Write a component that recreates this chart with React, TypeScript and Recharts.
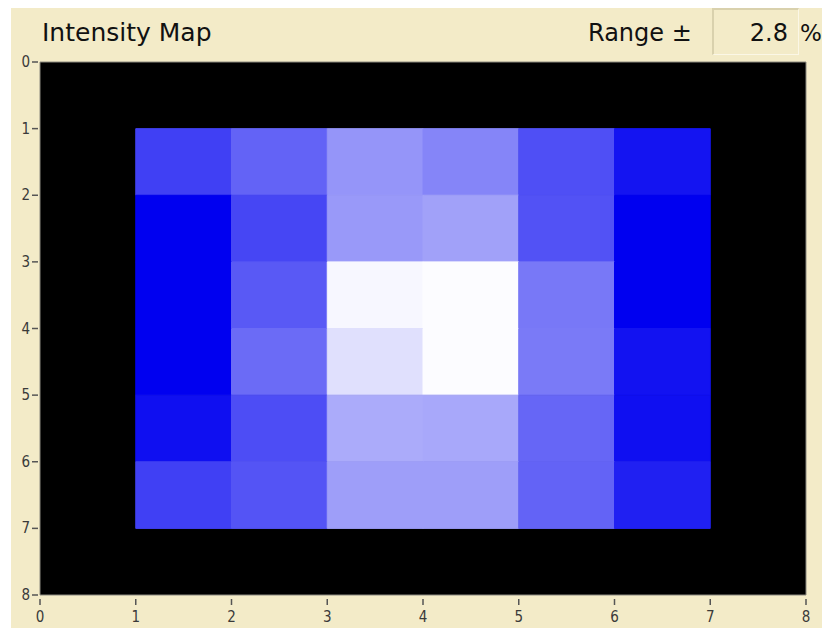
import { ReferenceArea, ScatterChart, XAxis, YAxis } from 'recharts';

// 6x6 intensity grid, rows top to bottom (y = 1..7), columns left to right (x = 1..7)
const row1 = [0.25, 0.39, 0.585, 0.52, 0.31, 0.08];
const row2 = [0.0, 0.275, 0.6, 0.63, 0.32, 0.0];
const row3 = [0.0, 0.35, 0.97, 0.99, 0.47, 0.0];
const row4 = [0.0, 0.42, 0.88, 0.99, 0.48, 0.07];
const row5 = [0.06, 0.3, 0.67, 0.66, 0.4, 0.06];
const row6 = [0.25, 0.33, 0.62, 0.62, 0.39, 0.125];
const rows = [row1, row2, row3, row4, row5, row6];

const xTicks = [0, 1, 2, 3, 4, 5, 6, 7, 8];
const yTicks = [0, 1, 2, 3, 4, 5, 6, 7, 8];
const rangePct = 2.8;

const BG = '#f3ebc8';
const TICK_FONT = '"DejaVu Sans Condensed", "DejaVu Sans", sans-serif';

// blue -> white colormap
function colorFor(v: number) {
  const c = Math.round(255 * v);
  const b = Math.round(240 + 15 * v);
  return `rgb(${c},${c},${b})`;
}

function XTick(props: any) {
  const { x, y, payload } = props;
  return (
    <g>
      <line x1={x} x2={x} y1={y + 4} y2={y + 10} stroke="#555" strokeWidth={1.5} />
      <text x={x} y={y + 27} textAnchor="middle" fontSize={15} fill="#3a3a3a" fontFamily={TICK_FONT}>
        {payload.value}
      </text>
    </g>
  );
}

function YTick(props: any) {
  const { x, y, payload } = props;
  return (
    <g>
      <line x1={x - 8} x2={x - 2} y1={y} y2={y} stroke="#555" strokeWidth={1.5} />
      <text x={x - 10} y={y + 5} textAnchor="end" fontSize={15} fill="#3a3a3a" fontFamily={TICK_FONT}>
        {payload.value}
      </text>
    </g>
  );
}

export default function App() {
  const cells: any[] = [];
  rows.forEach((row, r) => {
    row.forEach((v, c) => {
      const col = colorFor(v);
      cells.push(
        <ReferenceArea
          key={`${r}-${c}`}
          x1={c + 1}
          x2={c + 2}
          y1={r + 1}
          y2={r + 2}
          fill={col}
          fillOpacity={1}
          stroke={col}
          strokeWidth={1}
          ifOverflow="visible"
        />
      );
    });
  });

  return (
    <div style={{ position: 'absolute', left: 0, top: 0, width: 822, height: 628, background: '#fff' }}>
      <div
        style={{
          position: 'absolute',
          left: 11,
          top: 8,
          width: 811,
          height: 620,
          background: BG,
          overflow: 'hidden',
          fontFamily: '"DejaVu Sans", sans-serif',
          color: '#111',
        }}
      >
        <div style={{ position: 'absolute', left: 31, top: 10, fontSize: 25, lineHeight: '30px' }}>
          Intensity Map
        </div>
        <div style={{ position: 'absolute', left: 577, top: 10, fontSize: 24, lineHeight: '30px' }}>
          Range ±
        </div>
        <div
          style={{
            position: 'absolute',
            left: 701,
            top: 0,
            width: 87,
            height: 47,
            boxSizing: 'border-box',
            borderLeft: '2px solid #d9d1ad',
            borderTop: '2px solid #d9d1ad',
            borderRight: '1px solid #fbf7e6',
            borderBottom: '1px solid #fbf7e6',
          }}
        >
          <div style={{ position: 'absolute', right: 10, top: 8, fontSize: 24, lineHeight: '30px' }}>
            {rangePct.toFixed(1)}
          </div>
        </div>
        <div style={{ position: 'absolute', left: 789, top: 10, fontSize: 23, lineHeight: '30px' }}>%</div>

        <ScatterChart width={811} height={620} margin={{ top: 54, right: 16, bottom: 0, left: 0 }}>
          <XAxis
            type="number"
            dataKey="x"
            domain={[0, 8]}
            ticks={xTicks}
            allowDataOverflow
            axisLine={false}
            tickLine={false}
            tickSize={0}
            tickMargin={0}
            height={33}
            tick={<XTick />}
          />
          <YAxis
            type="number"
            dataKey="y"
            domain={[0, 8]}
            ticks={yTicks}
            reversed
            allowDataOverflow
            axisLine={false}
            tickLine={false}
            tickSize={0}
            tickMargin={0}
            width={29}
            tick={<YTick />}
          />
          <ReferenceArea x1={0} x2={8} y1={0} y2={8} fill="#000" fillOpacity={1} stroke="#8c8a80" strokeWidth={1} />
          {cells}
        </ScatterChart>
      </div>
    </div>
  );
}
